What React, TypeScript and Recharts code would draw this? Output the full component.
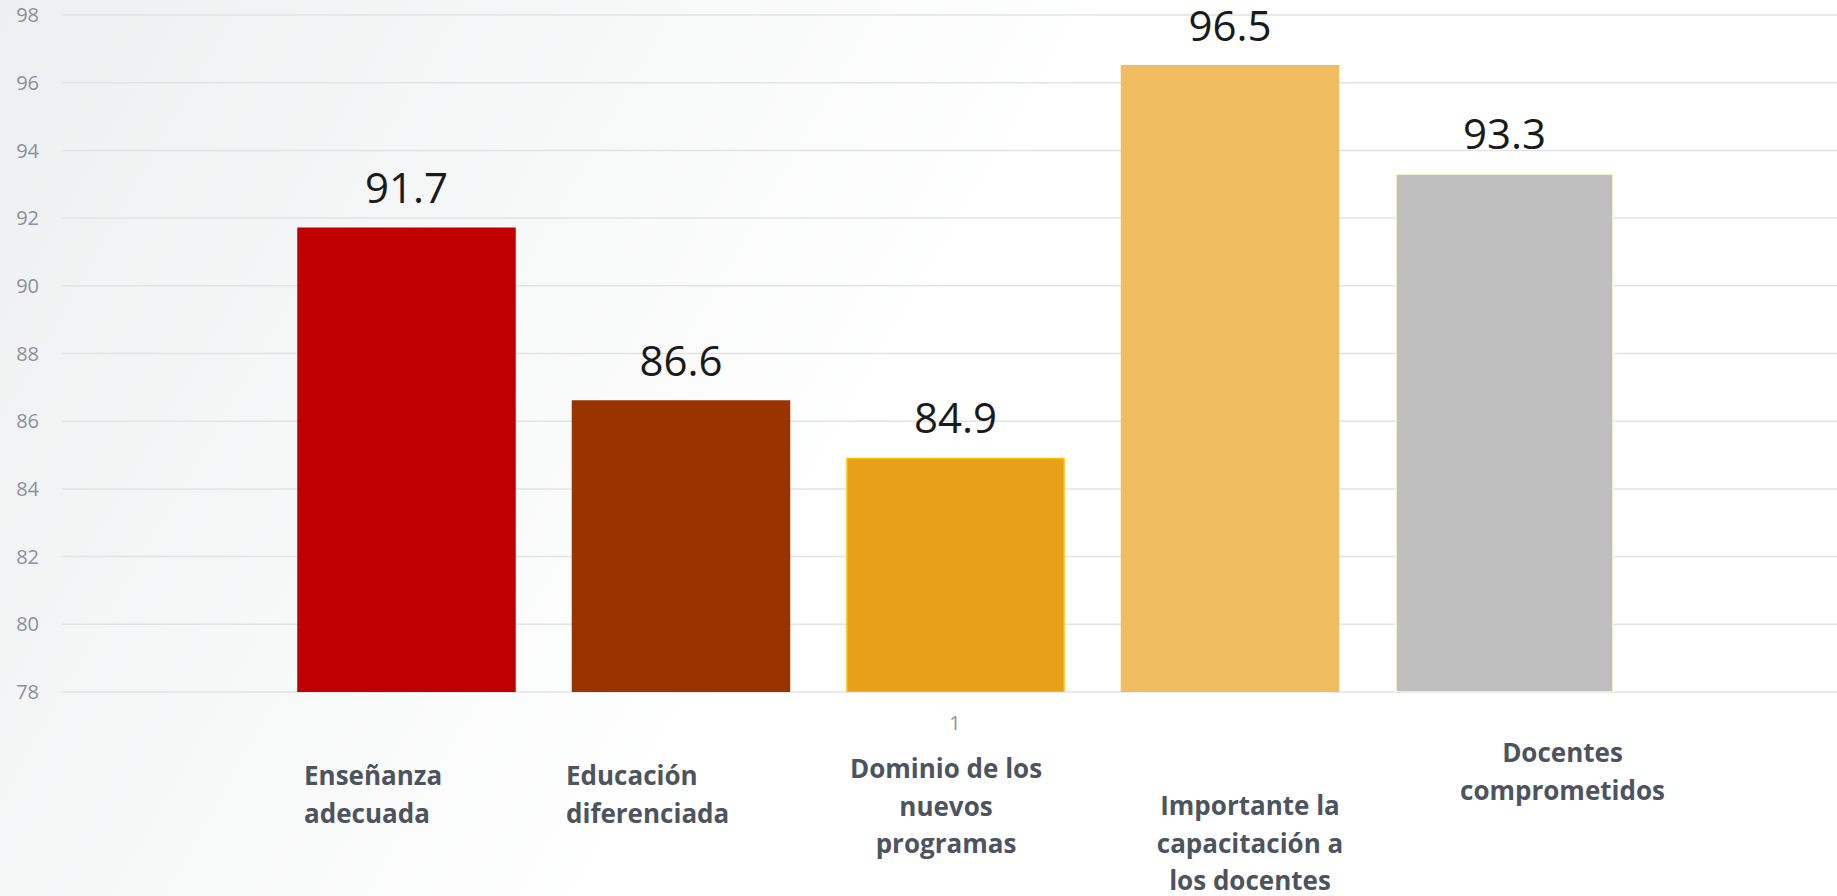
import { BarChart, Bar, XAxis, YAxis, CartesianGrid, LabelList } from 'recharts';

// single category, five series (Excel-style chart)
const CATEGORIES = ['1'];
const SERIES_KEYS = ['s1', 's2', 's3', 's4', 's5'];
const SERIES_VALUES = [91.7, 86.6, 84.9, 96.5, 93.3];
const SERIES_LINES = [
  ['Enseñanza', 'adecuada'],
  ['Educación', 'diferenciada'],
  ['Dominio de los', 'nuevos', 'programas'],
  ['Importante la', 'capacitación a', 'los docentes'],
  ['Docentes', 'comprometidos'],
];
const Y_TICKS = [78, 80, 82, 84, 86, 88, 90, 92, 94, 96, 98];

const FILLS = ['#C00000', '#993300', '#E6A118', '#F0BE60', '#BFBFBF'];
const STROKES = ['#C00000', '#993300', '#FFC000', '#F0BE60', '#FFFFCC'];

// where each series name sits under the axis (relative to its bar)
const NAME_LAYOUT = [
  { anchor: 'start', dx: 6, top: 93 },
  { anchor: 'start', dx: -6.5, top: 93 },
  { anchor: 'middle', dx: -9.5, top: 86 },
  { anchor: 'middle', dx: 20, top: 123 },
  { anchor: 'middle', dx: 58, top: 70 },
];
const LINE_HEIGHT = 37.5;

const data = CATEGORIES.map((name, c) => {
  const row: Record<string, any> = { name };
  SERIES_KEYS.forEach((k, i) => {
    row[k] = SERIES_VALUES[i + c * SERIES_KEYS.length];
  });
  return row;
});

const FONT = '"Open Sans", sans-serif';
const tickStyle = { fontSize: 20, fill: '#8b919a', fontFamily: FONT } as const;

function SeriesName(props: any) {
  const { x, y, width, height, seriesIndex } = props;
  const layout = NAME_LAYOUT[seriesIndex];
  const bottom = Number(y) + Number(height);
  const ax = layout.anchor === 'start' ? Number(x) + layout.dx : Number(x) + Number(width) / 2 + layout.dx;
  return (
    <text
      x={ax}
      y={bottom + layout.top}
      textAnchor={layout.anchor}
      fontFamily={FONT}
      fontWeight={700}
      fontSize={26}
      fill="#4d545e"
    >
      {SERIES_LINES[seriesIndex].map((line, j) => (
        <tspan key={j} x={ax} dy={j === 0 ? 0 : LINE_HEIGHT}>
          {line}
        </tspan>
      ))}
    </text>
  );
}

export default function App() {
  return (
    <div
      style={{
        position: 'fixed',
        left: 0,
        top: 0,
        width: 1837,
        height: 896,
        overflow: 'hidden',
        background: 'linear-gradient(120deg, #eeeff0 0%, #f7f8f8 28%, #ffffff 48%, #ffffff 100%)',
      }}
    >
      <BarChart
        width={1837}
        height={896}
        data={data}
        margin={{ top: 15, right: 0, bottom: 0, left: 0 }}
        barSize={217}
        barGap={57.5}
      >
        <CartesianGrid stroke="#e2e3e4" strokeWidth={1.5} vertical={false} />
        <XAxis
          dataKey="name"
          height={204}
          padding={{ left: 11, right: 0 }}
          axisLine={false}
          tickLine={false}
          tickSize={0}
          tickMargin={24}
          tick={tickStyle}
        />
        <YAxis
          domain={[78, 98]}
          ticks={Y_TICKS}
          width={62}
          axisLine={false}
          tickLine={false}
          tickSize={0}
          tickMargin={23}
          tick={tickStyle}
          allowDataOverflow
        />
        {SERIES_KEYS.map((k, i) => (
          <Bar
            key={k}
            dataKey={k}
            fill={FILLS[i]}
            stroke={STROKES[i]}
            strokeWidth={1.5}
            isAnimationActive={false}
          >
            <LabelList
              dataKey={k}
              position="top"
              offset={25}
              style={{ fontSize: 42, fill: '#1a1a1a', fontFamily: FONT }}
            />
            <LabelList dataKey={k} content={(p: any) => <SeriesName {...p} seriesIndex={i} />} />
          </Bar>
        ))}
      </BarChart>
    </div>
  );
}
